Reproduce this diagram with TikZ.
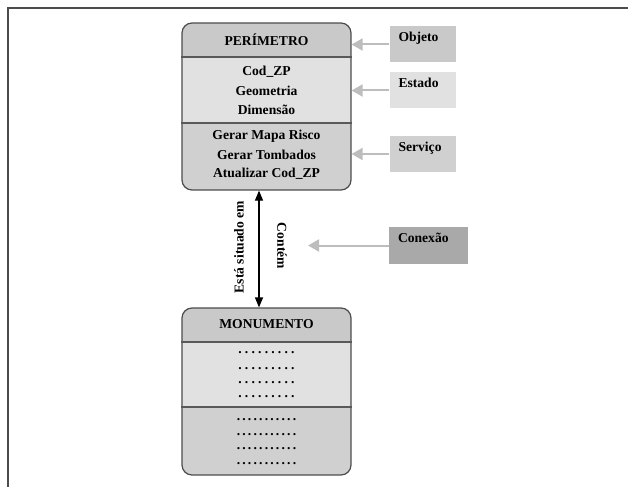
\documentclass[tikz,border=0pt]{standalone}
\usepackage{fontspec}
\setmainfont{Liberation Serif}
\usetikzlibrary{arrows.meta}
\definecolor{hdrgray}{HTML}{C9C9C9}
\definecolor{stategray}{HTML}{E1E1E1}
\definecolor{servgray}{HTML}{D0D0D0}
\definecolor{cxgray}{HTML}{A9A9A9}
\definecolor{ptrgray}{HTML}{BDBDBD}
\newcommand{\dotrow}[2]{\foreach \k in {2,...,#1}{.\hspace{#2}}.}

\begin{document}
\begin{tikzpicture}
  [x=1bp,y=-1bp,every node/.style={font=\fontsize{13.6bp}{16bp}\selectfont\bfseries}]
  \tikzstyle{classbox} = [draw=black!70,line width=1.2bp,rounded corners=10bp,
    minimum width=169bp,minimum height=167bp,inner sep=0]
  \tikzstyle{tag} = [minimum width=66bp,minimum height=36bp,inner sep=0]
  \tikzstyle{tagtext} = [anchor=north west,inner sep=0]
  \tikzstyle{pointer} = [draw=ptrgray,line width=2bp,-{Triangle[length=11bp,width=12bp]}]
  \tikzstyle{link} = [line width=1.2bp,{Triangle[length=10bp,width=8bp]}-{Triangle[length=10bp,width=8bp]}]
  \tikzstyle{divider} = [draw=black!65,line width=1.5bp]

  \useasboundingbox (0,0) rectangle (628,487);
  \draw[black!70,line width=1.5bp] (628,8) -- (8,8) -- (8,487);

  % the two classes
\foreach \name/\top/\a/\b/\bot in {perim/23/57/123/190,monum/308/342/407/475} {
  \begin{scope}
    \clip[rounded corners=10bp] (182,\top) rectangle (351,\bot);
    \fill[hdrgray] (182,\top) rectangle (351,\a);
    \fill[stategray] (182,\a) rectangle (351,\b);
    \fill[servgray] (182,\b) rectangle (351,\bot);
  \end{scope}
  \node[classbox] (\name) at (266.5,{(\top+\bot)/2}) {};
  \draw[divider] (\name.west |- 0,\a) -- (\name.east |- 0,\a);
  \draw[divider] (\name.west |- 0,\b) -- (\name.east |- 0,\b);
}

  \node (ptitle) at (266.5,40) {PERÍMETRO};
\foreach \txt/\y [count=\i] in {Cod\_ZP/72,Geometria/91,Dimensão/110,
    Gerar Mapa Risco/136,Gerar Tombados/155,Atualizar Cod\_ZP/174}
   \node (pitem\i) at (266.5,\y) {\txt};

  \node (mtitle) at (266.5,324) {MONUMENTO};
\foreach \y [count=\i] in {353,369,383,397}
   \node (mstate\i) at (266.5,\y) {\dotrow{9}{3.2bp}};
\foreach \y [count=\i] in {420,435,449,464}
   \node (mserv\i) at (266.5,\y) {\dotrow{11}{2.2bp}};

  % legend
\foreach \name/\txt/\y/\col in {objeto/Objeto/44.5/hdrgray,estado/Estado/90.5/stategray,servico/Serviço/154/servgray} {
   \node[tag,fill=\col] (\name) at (422.5,\y) {};
   \node[tagtext] (\name txt) at ([shift={(9,6)}]\name.north west) {\txt};
   \draw[pointer] (\name.west) -- (\name.west -| perim.east);
}
  \node[tag,fill=cxgray,minimum width=79bp] (conexao) at (428.5,245.5) {};
  \node[tagtext] (conexaotxt) at ([shift={(9,6)}]conexao.north west) {Conexão};
  \coordinate (cxtip) at (308,242);
  \draw[pointer] (conexao.west) -- (conexao.west -| cxtip);

  % relation
  \draw[link] ([xshift=-7.5bp]perim.south) -- ([xshift=-7.5bp]monum.north);
  \node[rotate=90] (situado) at (239,247) {Está situado em};
  \node[rotate=-90] (contem) at (282,246) {Contém};

\end{tikzpicture}
\end{document}
